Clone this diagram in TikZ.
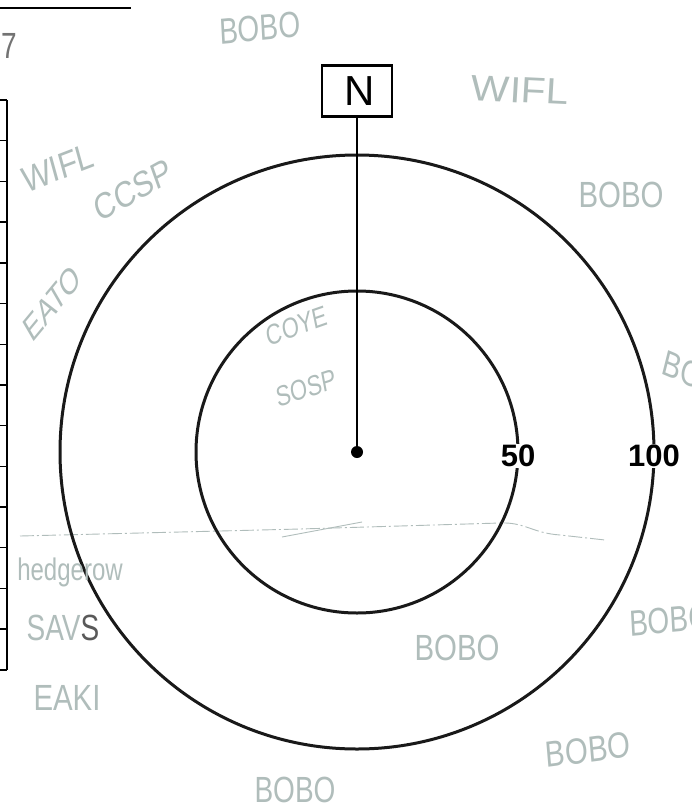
\documentclass[tikz,border=0pt]{standalone}
\usepackage{fontspec}
\setmainfont{Liberation Sans}
\usetikzlibrary{positioning}
\usetikzlibrary{calc}

\definecolor{pencil}{RGB}{176,189,187}

\begin{document}
\begin{tikzpicture}[x=1pt, y=-1pt,
    ring/.style={line width=3pt, black!90},
    note/.style={text=pencil, font=\fontsize{28}{28}\selectfont, inner sep=0pt, yscale=1.3},
    dist/.style={font=\fontsize{31}{31}\selectfont\bfseries, fill=white, inner sep=1pt},
    nbox/.style={draw, line width=2.5pt, minimum width=70pt, minimum height=51pt, inner sep=0pt, font=\fontsize{42}{42}\selectfont}]

    \useasboundingbox (0,0) rectangle (691,811);
    \clip (0,0) rectangle (691,811);
    \fill[white] (0,0) rectangle (691,811);

    % sheet edge
    \draw[line width=1.8pt] (0,8) -- (131,8);
    \draw[line width=1.8pt] (7,100) -- (7,670);
    \foreach \i in {0,...,14}
        \draw[line width=1.4pt] (0,{100+\i*40.7}) -- (7,{100+\i*40.7});
    \node[note, text=black!55] (seven) at (9,46) {7};

    % hedgerow line
    \draw[pencil, line width=0.9pt, dash pattern=on 14pt off 3pt on 2pt off 3pt]
        (20,536) -- (300,529) -- (500,523) .. controls (525,522) and (532,533) .. (560,535) -- (605,540);
    \draw[pencil, line width=0.9pt] (282,537) -- (362,522);

    % rings
    \node[circle, fill=black, inner sep=0pt, minimum size=12pt] (ctr) at (357,452) {};
    \draw[ring] (ctr.center) circle[radius=161pt];
    \draw[ring] (ctr.center) circle[radius=297pt];
    \node[nbox, above=328pt of ctr] (nbox) {\hspace*{6pt}N};
    \draw[line width=2.2pt] (nbox) -- (ctr);
    \node[dist] (d50) at (518,456) {50};
    \node[dist] (d100) at (654,456) {100};

    % notes
    \node[note, rotate=4] (bobo1) at (260,28) {BOBO};
    \node[note, xscale=1.45, rotate=-3] (wifl1) at (520,90) {WIFL};
    \node[note, xscale=1.05] (bobo2) at (621,195) {BOBO};
    \node[note, xscale=1.1, rotate=18] (wifl2) at (58,168) {WIFL};
    \node[note, xscale=1.05, rotate=24] (ccsp) at (133,190) {CCSP};
    \node[note, xscale=0.9, rotate=40] (eato) at (52,303) {EATO};
    \node[note, font=\fontsize{22}{22}\selectfont, rotate=15] (coye) at (297,326) {COYE};
    \node[note, font=\fontsize{22}{22}\selectfont, rotate=14] (sosp) at (306,388) {SOSP};
    \node[note, rotate=-18] (bobo3) at (702,378) {BOBO};
    \node[note, rotate=4] (bobo4) at (670,620) {BOBO};
    \node[note, xscale=1.05] (bobo5) at (457,648) {BOBO};
    \node[note, xscale=1.05, rotate=6] (bobo6) at (588,750) {BOBO};
    \node[note] (bobo7) at (295,790) {BOBO};
    \node[note, font=\fontsize{24}{24}\selectfont] (hedge) at (70,572) {hedgerow};
    \node[note] (savs) at (63,628) {SAV\textcolor{black!65}{S}};
    \node[note, xscale=1.05] (eaki) at (67,698) {EAKI};
\end{tikzpicture}
\end{document}
